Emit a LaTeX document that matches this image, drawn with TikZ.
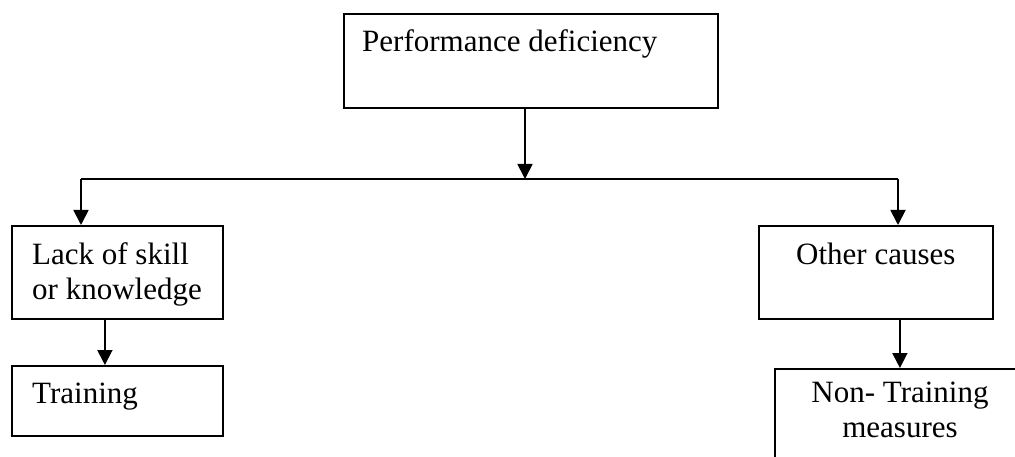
\documentclass[tikz,border=0pt]{standalone}
\usepackage{fontspec}
\setmainfont{Liberation Serif}
\usetikzlibrary{arrows.meta}
\begin{document}
\begin{tikzpicture}[x=1pt,y=-1pt,
  box/.style={draw,line width=1.8pt,inner sep=0pt,anchor=north west},
  txt/.style={inner sep=0pt,font=\fontsize{31}{35}\selectfont,align=left,anchor=base west},
  line/.style={line width=1.8pt},
  arr/.style={line width=1.8pt,-{Triangle[length=15pt,width=15pt]}}]
\useasboundingbox (0,0) rectangle (1015,457);
\clip (0,0) rectangle (1015,457);
% boxes
\node[box,minimum width=374pt,minimum height=94pt] (pd) at (343,13) {};
\node[box,minimum width=211pt,minimum height=93pt] (lack) at (11,225) {};
\node[box,minimum width=211pt,minimum height=70pt] (train) at (11,365) {};
\node[box,minimum width=234pt,minimum height=93pt] (other) at (758,225) {};
\node[box,minimum width=260pt,minimum height=110pt] (non) at (774,368) {};
% texts (base anchor of a multi-line node is the last line's baseline)
\node[txt] (tpd) at (362,52) {Performance deficiency};
\node[txt] (tlack) at (32,299) {Lack of skill\\or knowledge};
\node[txt] (ttrain) at (32,403) {Training};
\node[txt] (tother) at (796,265) {Other causes};
\node[txt,align=center,anchor=base] (tnon) at (900,437) {Non- Training\\measures};
% connectors
\coordinate (j) at (525,179);
\coordinate (jl) at (81,179);
\coordinate (jr) at (898,179);
\draw[arr] (j |- pd.south) -- (j);
\draw[line] (jl) -- (jr);
\draw[arr] (jl) -- (jl |- lack.north);
\draw[arr] (jr) -- (jr |- other.north);
\draw[arr] ([xshift=-12.5pt]lack.south) -- ([xshift=-12.5pt]train.north);
\draw[arr] ([xshift=24pt]other.south) coordinate (a) -- (a |- non.north);
\end{tikzpicture}
\end{document}
